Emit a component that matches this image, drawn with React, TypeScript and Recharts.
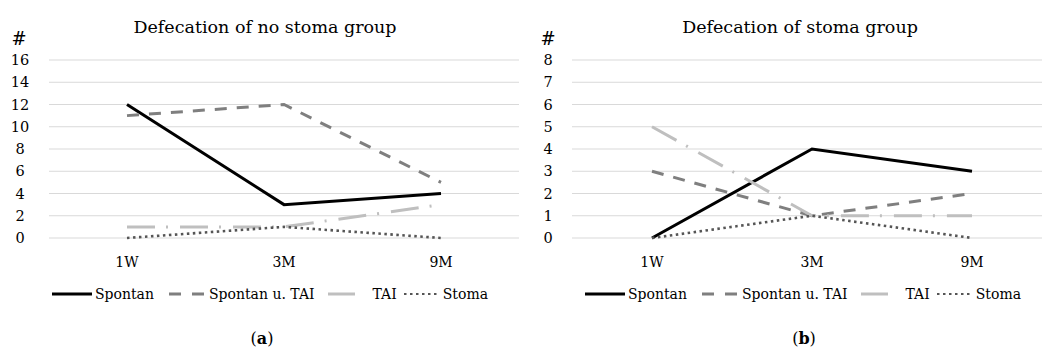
import React from 'react';
import { LineChart, Line, XAxis, YAxis, CartesianGrid } from 'recharts';

const periods = ['1W', '3M', '9M'];

// (a) no stoma group
const noStomaSpontan = [12, 3, 4];
const noStomaSpontanTai = [11, 12, 5];
const noStomaTai = [1, 1, 3];
const noStomaStoma = [0, 1, 0];
const noStomaTicks = [0, 2, 4, 6, 8, 10, 12, 14, 16];

// (b) stoma group
const stomaSpontan = [0, 4, 3];
const stomaSpontanTai = [3, 1, 2];
const stomaTai = [5, 1, 1];
const stomaStoma = [0, 1, 0];
const stomaTicks = [0, 1, 2, 3, 4, 5, 6, 7, 8];

const FONT = '"DejaVu Serif", serif';

const buildRows = (a: number[], b: number[], c: number[], d: number[]) =>
  periods.map((p, i) => ({ period: p, spontan: a[i], spontanTai: b[i], tai: c[i], stoma: d[i] }));

const noStomaData = buildRows(noStomaSpontan, noStomaSpontanTai, noStomaTai, noStomaStoma);
const stomaData = buildRows(stomaSpontan, stomaSpontanTai, stomaTai, stomaStoma);

const series = [
  { key: 'spontan', name: 'Spontan', color: '#000000', width: 3, dash: undefined as string | undefined },
  { key: 'spontanTai', name: 'Spontan u. TAI', color: '#7f7f7f', width: 3, dash: '12 10' },
  { key: 'tai', name: 'TAI', color: '#bfbfbf', width: 3, dash: '28 11 2 12' },
  { key: 'stoma', name: 'Stoma', color: '#555555', width: 2.6, dash: '2.5 3.5' },
];

const LegendBox = ({ center }: { center: number }) => (
  <div
    style={{
      position: 'absolute', left: center - 300, width: 600, top: 286,
      display: 'flex', justifyContent: 'center', alignItems: 'center',
      fontFamily: FONT, fontSize: 14, color: '#000',
    }}
  >
    <svg width={40} height={10}><line x1={0} y1={5} x2={40} y2={5} stroke="#000" strokeWidth={3} /></svg>
    <span style={{ marginLeft: 3 }}>Spontan</span>
    <svg width={35} height={10} style={{ marginLeft: 15 }}>
      <line x1={0} y1={5} x2={35} y2={5} stroke="#7f7f7f" strokeWidth={3} strokeDasharray="12 11" />
    </svg>
    <span style={{ marginLeft: 5 }}>Spontan u. TAI</span>
    <svg width={27} height={10} style={{ marginLeft: 13 }}>
      <line x1={0} y1={5} x2={27} y2={5} stroke="#bfbfbf" strokeWidth={3} />
    </svg>
    <span style={{ marginLeft: 18 }}>TAI</span>
    <svg width={37} height={10} style={{ marginLeft: 6 }}>
      <line x1={1} y1={5} x2={37} y2={5} stroke="#555555" strokeWidth={2.2} strokeDasharray="2.5 3.5" />
    </svg>
    <span style={{ marginLeft: 3 }}>Stoma</span>
  </div>
);

type PanelProps = {
  data: typeof noStomaData;
  ticks: number[];
  max: number;
  width: number;
  axisWidth: number;
  pad: number;
  labelX: number;
};

const Panel = ({ data, ticks, max, width, axisWidth, pad, labelX }: PanelProps) => (
  <LineChart width={width} height={310} data={data} margin={{ top: 60, right: 1, left: 0, bottom: 32 }}>
    <CartesianGrid vertical={false} stroke="#d9d9d9" strokeWidth={1} />
    <XAxis
      dataKey="period"
      axisLine={false}
      tickLine={false}
      height={40}
      padding={{ left: pad, right: pad }}
      tick={(p: any) => (
        <text x={p.x} y={p.y} dy={21} textAnchor="middle" fontFamily={FONT} fontSize={14} fill="#000">
          {p.payload.value}
        </text>
      )}
    />
    <YAxis
      domain={[0, max]}
      ticks={ticks}
      interval={0}
      width={axisWidth}
      axisLine={false}
      tickLine={false}
      tick={(p: any) => (
        <text x={labelX} y={p.y} dy={5} textAnchor="middle" fontFamily={FONT} fontSize={14.5} fill="#000">
          {p.payload.value}
        </text>
      )}
    />
    {series.map((s) => (
      <Line
        key={s.key}
        dataKey={s.key}
        name={s.name}
        type="linear"
        stroke={s.color}
        strokeWidth={s.width}
        strokeDasharray={s.dash}
        dot={false}
        activeDot={false}
        isAnimationActive={false}
      />
    ))}
  </LineChart>
);

const Title = ({ text, x }: { text: string; x: number }) => (
  <div style={{ position: 'absolute', left: x - 200, width: 400, top: 17, textAlign: 'center', fontFamily: FONT, fontSize: 17.5, color: '#000' }}>
    {text}
  </div>
);

const Hash = ({ x }: { x: number }) => (
  <div style={{ position: 'absolute', left: x - 10, width: 20, top: 28, textAlign: 'center', fontFamily: FONT, fontSize: 18, color: '#000' }}>#</div>
);

const Caption = ({ letter, x }: { letter: string; x: number }) => (
  <div style={{ position: 'absolute', left: x - 30, width: 60, top: 329, textAlign: 'center', fontFamily: FONT, fontSize: 16, color: '#000' }}>
    (<b>{letter}</b>)
  </div>
);

export default function App() {
  return (
    <div style={{ position: 'absolute', left: 0, top: 0, width: 1042, height: 350, overflow: 'hidden', background: '#fff' }}>
      <div style={{ position: 'absolute', left: 0, top: 0 }}>
        <Panel data={noStomaData} ticks={noStomaTicks} max={16} width={520} axisWidth={49} pad={78} labelX={20} />
      </div>
      <div style={{ position: 'absolute', left: 520, top: 0 }}>
        <Panel data={stomaData} ticks={stomaTicks} max={8} width={533} axisWidth={52} pad={80} labelX={28} />
      </div>
      <Title text="Defecation of no stoma group" x={265} />
      <Title text="Defecation of stoma group" x={800} />
      <Hash x={19} />
      <Hash x={548} />
      <LegendBox center={270} />
      <LegendBox center={803} />
      <Caption letter="a" x={262} />
      <Caption letter="b" x={804} />
    </div>
  );
}
